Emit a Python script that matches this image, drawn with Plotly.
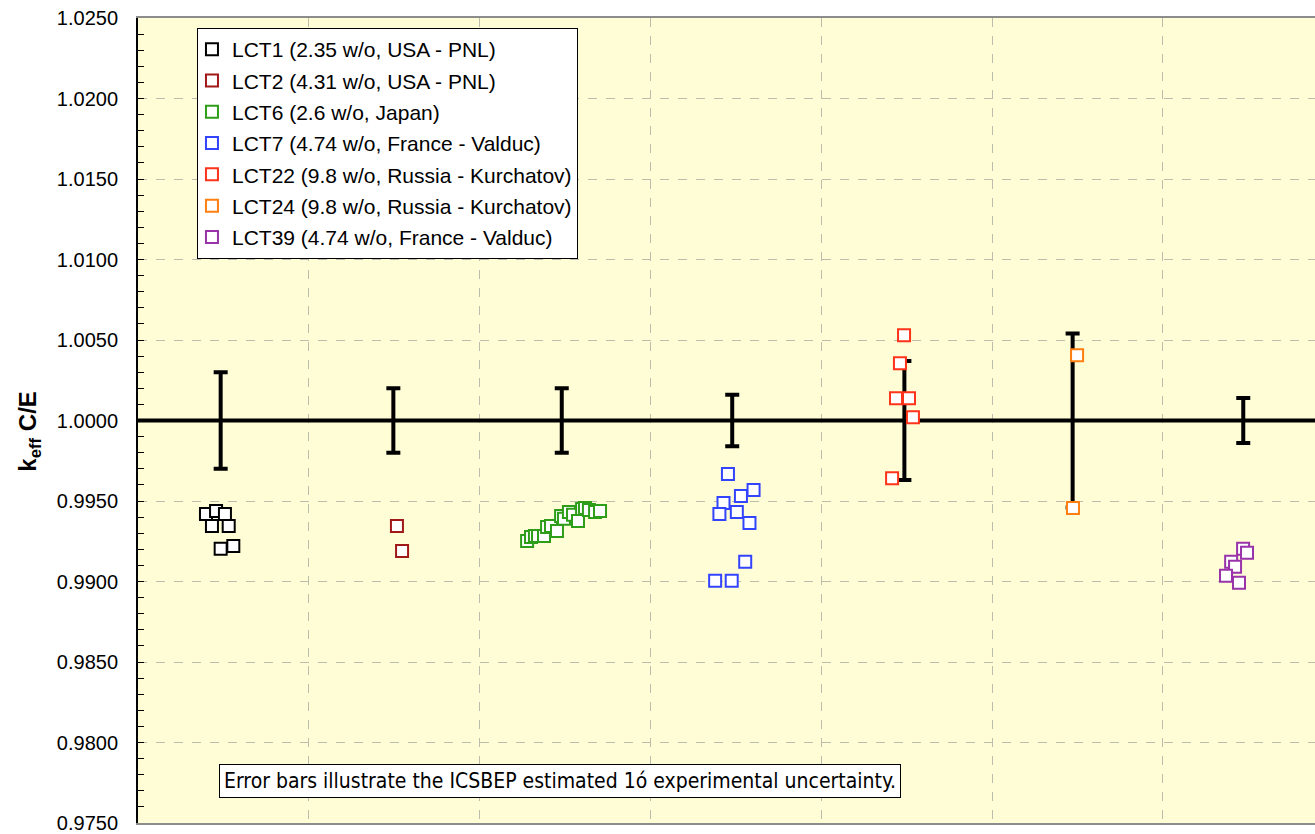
import plotly.graph_objects as go

# Benchmark series: names, colours, marker positions (x within each slot) and C/E values
names = [
    "LCT1 (2.35 w/o, USA - PNL)",
    "LCT2 (4.31 w/o, USA - PNL)",
    "LCT6 (2.6 w/o, Japan)",
    "LCT7 (4.74 w/o, France - Valduc)",
    "LCT22 (9.8 w/o, Russia - Kurchatov)",
    "LCT24 (9.8 w/o, Russia - Kurchatov)",
    "LCT39 (4.74 w/o, France - Valduc)",
]
colors = ["#000000", "#A01818", "#2E9E1A", "#3344FF", "#FF3319", "#FF7F10", "#9933AA"]

lct1_x = [0.398, 0.457, 0.509, 0.433, 0.531, 0.484, 0.558]
lct1_y = [0.99419, 0.99438, 0.99419, 0.99345, 0.99345, 0.99203, 0.99221]

lct2_x = [1.516, 1.546]
lct2_y = [0.99345, 0.99190]

lct6_x = [2.278, 2.301, 2.324, 2.342, 2.377, 2.395, 2.418, 2.453, 2.477,
          2.494, 2.523, 2.547, 2.576, 2.600, 2.617, 2.640, 2.676, 2.705]
lct6_y = [0.99252, 0.99277, 0.99283, 0.99283, 0.99283, 0.99339, 0.99345, 0.99314, 0.99407,
          0.99389, 0.99432, 0.99414, 0.99376, 0.99451, 0.99457, 0.99444, 0.99432, 0.99438]

lct7_x = [3.454, 3.604, 3.530, 3.428, 3.404, 3.506, 3.580, 3.555, 3.379, 3.476]
lct7_y = [0.99667, 0.99568, 0.99531, 0.99488, 0.99419, 0.99432, 0.99364, 0.99122, 0.99004, 0.99004]

lct22_x = [4.485, 4.461, 4.438, 4.514, 4.537, 4.415]
lct22_y = [1.00529, 1.00355, 1.00138, 1.00138, 1.00020, 0.99642]

lct24_x = [5.498, 5.474]
lct24_y = [1.00405, 0.99457]

lct39_x = [6.470, 6.493, 6.400, 6.423, 6.370, 6.446]
lct39_y = [0.99203, 0.99178, 0.99122, 0.99091, 0.99035, 0.98992]

series_x = [lct1_x, lct2_x, lct6_x, lct7_x, lct22_x, lct24_x, lct39_x]
series_y = [lct1_y, lct2_y, lct6_y, lct7_y, lct22_y, lct24_y, lct39_y]

# ICSBEP 1-sigma experimental uncertainty per benchmark
err_x = [0.484, 1.495, 2.481, 3.479, 4.487, 5.472, 6.471]
err_center = [1.0, 1.0, 1.0, 1.0, 1.0, 1.0, 1.0]
err_sigma = [0.0030, 0.0020, 0.0020, 0.0016, 0.0037, 0.0054, 0.0014]

y_ticks = [0.975, 0.980, 0.985, 0.990, 0.995, 1.000, 1.005, 1.010, 1.015, 1.020, 1.025]
x_range = [0, 6.891]
unity = 1.0

FONT = "Arial, Liberation Sans, Helvetica, sans-serif"
NARROW = "Liberation Sans Narrow, Arial Narrow, DejaVu Sans Condensed, sans-serif"

fig = go.Figure()

# reference line at C/E = 1, drawn first so the markers sit on top of it
fig.add_trace(go.Scatter(
    x=x_range, y=[unity, unity], mode="lines",
    line=dict(color="#000000", width=4),
    showlegend=False, hoverinfo="skip", cliponaxis=False,
))

fig.add_trace(go.Scatter(
    x=err_x, y=err_center, mode="markers",
    marker=dict(size=1, color="rgba(0,0,0,0)"),
    error_y=dict(type="data", array=err_sigma, visible=True,
                 color="#000000", thickness=4, width=7),
    showlegend=False, hoverinfo="skip",
))

for i, (nm, col, xs, ys) in enumerate(zip(names, colors, series_x, series_y)):
    fig.add_trace(go.Scatter(
        x=xs, y=ys, mode="markers", name=nm, legendgroup=f"g{i}",
        marker=dict(symbol="square", size=12, color="#FFFFFF",
                    line=dict(color=col, width=2)),
    ))

fig.add_annotation(
    xref="paper", yref="paper", x=0.0688, y=0.052, xanchor="left", yanchor="middle",
    text="Error bars illustrate the ICSBEP estimated 1ó experimental uncertainty.",
    showarrow=False, font=dict(family=NARROW, size=21, color="#000000"),
    bgcolor="#FFFFFF", bordercolor="#000000", borderwidth=1, borderpad=4,
)

fig.add_annotation(
    xref="paper", yref="paper", x=-0.092, y=0.487, xanchor="center", yanchor="middle",
    text="<b>k<sub>eff</sub> C/E</b>", textangle=-90, showarrow=False,
    font=dict(family=FONT, size=24, color="#000000"),
)

fig.update_layout(
    width=1315, height=834,
    margin=dict(l=138, r=0, t=18, b=9),
    paper_bgcolor="#FFFFFF", plot_bgcolor="#FFFDD6",
    font=dict(family=FONT, size=20, color="#000000"),
    showlegend=True,
    legend=dict(
        x=0.0501, y=0.9876, xanchor="left", yanchor="top",
        bgcolor="#FFFFFF", bordercolor="#000000", borderwidth=1,
        font=dict(family=FONT, size=21, color="#000000"),
        tracegroupgap=1, indentation=-6,
    ),
    xaxis=dict(
        range=x_range, tick0=0, dtick=1, showticklabels=False, ticks="",
        showgrid=True, gridcolor="#BDBDAE", griddash="dash", gridwidth=1,
        showline=True, linecolor="#8C8C8C", linewidth=2, mirror=True,
        zeroline=False, fixedrange=True,
    ),
    yaxis=dict(
        range=[0.975, 1.025], tickvals=y_ticks, tickformat=".4f",
        ticks="inside", ticklen=6, tickcolor="#000000", tickwidth=1,
        minor=dict(dtick=0.001, ticks="inside", ticklen=6, tickcolor="#000000", showgrid=False),
        showgrid=True, gridcolor="#BDBDAE", griddash="dash", gridwidth=1,
        showline=True, linecolor="#000000", linewidth=2, mirror=False,
        zeroline=False, ticklabelstandoff=14, ticklabeloverflow="allow",
        tickfont=dict(family=FONT, size=20, color="#000000"),
    ),
)

fig.write_html("out.html")
